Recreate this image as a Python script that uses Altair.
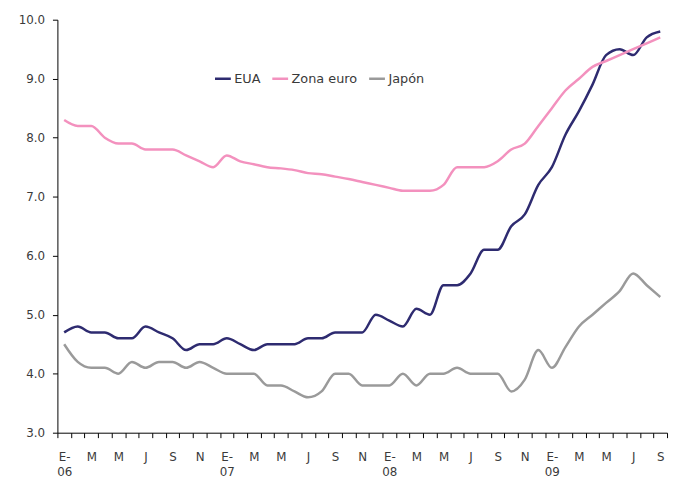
import altair as alt
import pandas as pd

months = list(range(45))  # Jan 2006 .. Sep 2009
tick_labels = ["E-\n06", "M", "M", "J", "S", "N",
               "E-\n07", "M", "M", "J", "S", "N",
               "E-\n08", "M", "M", "J", "S", "N",
               "E-\n09", "M", "M", "J", "S"]
series = ["EUA", "Zona euro", "Japón"]
eua = [4.7, 4.8, 4.7, 4.7, 4.6, 4.6, 4.8, 4.7, 4.6, 4.4, 4.5, 4.5,
       4.6, 4.5, 4.4, 4.5, 4.5, 4.5, 4.6, 4.6, 4.7, 4.7, 4.7, 5.0,
       4.9, 4.8, 5.1, 5.0, 5.5, 5.5, 5.7, 6.1, 6.1, 6.5, 6.7, 7.2,
       7.5, 8.05, 8.45, 8.9, 9.4, 9.5, 9.4, 9.7, 9.8]
zona = [8.3, 8.2, 8.2, 8.0, 7.9, 7.9, 7.8, 7.8, 7.8, 7.7, 7.6, 7.5,
        7.7, 7.6, 7.55, 7.5, 7.48, 7.45, 7.4, 7.38, 7.34, 7.3, 7.25, 7.2,
        7.15, 7.1, 7.1, 7.1, 7.2, 7.5, 7.5, 7.5, 7.6, 7.8, 7.9, 8.2,
        8.5, 8.8, 9.0, 9.2, 9.3, 9.4, 9.5, 9.6, 9.7]
japon = [4.5, 4.2, 4.1, 4.1, 4.0, 4.2, 4.1, 4.2, 4.2, 4.1, 4.2, 4.1,
         4.0, 4.0, 4.0, 3.8, 3.8, 3.7, 3.6, 3.7, 4.0, 4.0, 3.8, 3.8,
         3.8, 4.0, 3.8, 4.0, 4.0, 4.1, 4.0, 4.0, 4.0, 3.7, 3.9, 4.4,
         4.1, 4.45, 4.8, 5.0, 5.2, 5.4, 5.7, 5.5, 5.3]
colors = ["#2E2B70", "#F391BE", "#9A9A9A"]

rows = []
for name, vals in zip(series, [eua, zona, japon]):
    for m, v in zip(months, vals):
        rows.append({"m": m, "v": v, "s": name})
df = pd.DataFrame(rows)


def js_label(lbl):
    parts = lbl.split("\n")
    if len(parts) > 1:
        return "[" + ",".join("'%s'" % p for p in parts) + "]"
    return "'%s'" % lbl


arr = "[" + ",".join(js_label(l) for l in tick_labels) + "]"
axis_values = [i / 2 for i in range(-1, 90)]
label_expr = "(datum.value % 2 == 0) ? " + arr + "[datum.value / 2] : ''"

FONT = "DejaVu Sans"
TXT = "#3a3a3a"

chart = alt.Chart(df).mark_line(strokeWidth=2.5, interpolate="monotone").encode(
    x=alt.X("m:Q",
            scale=alt.Scale(domain=[-0.5, 44.5], nice=False, zero=False),
            axis=alt.Axis(values=axis_values, labelExpr=label_expr, title=None,
                          grid=False, labelAngle=0, labelOverlap=False,
                          labelFlush=False, tickSize=5, labelPadding=14,
                          labelLineHeight=15,
                          tickOpacity=alt.condition("datum.value % 1 != 0", alt.value(1), alt.value(0)))),
    y=alt.Y("v:Q",
            scale=alt.Scale(domain=[3, 10], nice=False, zero=False),
            axis=alt.Axis(values=[3, 4, 5, 6, 7, 8, 9, 10], format=".1f", title=None,
                          grid=False, tickSize=5, labelPadding=8)),
    color=alt.Color("s:N", scale=alt.Scale(domain=series, range=colors),
                    legend=alt.Legend(title=None, orient="none", direction="horizontal",
                                      legendX=158, legendY=50, symbolType="stroke",
                                      symbolStrokeWidth=2.5, symbolSize=256,
                                      labelFontSize=13, labelFont=FONT, labelColor=TXT,
                                      columnPadding=6, labelOffset=2)),
).properties(
    width=617, height=418,
    autosize=alt.AutoSizeParams(type="none"),
    padding={"left": 50, "top": 9, "right": 2, "bottom": 43},
).configure_view(stroke=None).configure_axis(
    domainColor="#000000", tickColor="#000000", domainWidth=1, tickWidth=1,
    labelFont=FONT, labelFontSize=12, labelColor=TXT,
)

chart.save("out.html", embed_options={"renderer": "svg", "actions": False})
